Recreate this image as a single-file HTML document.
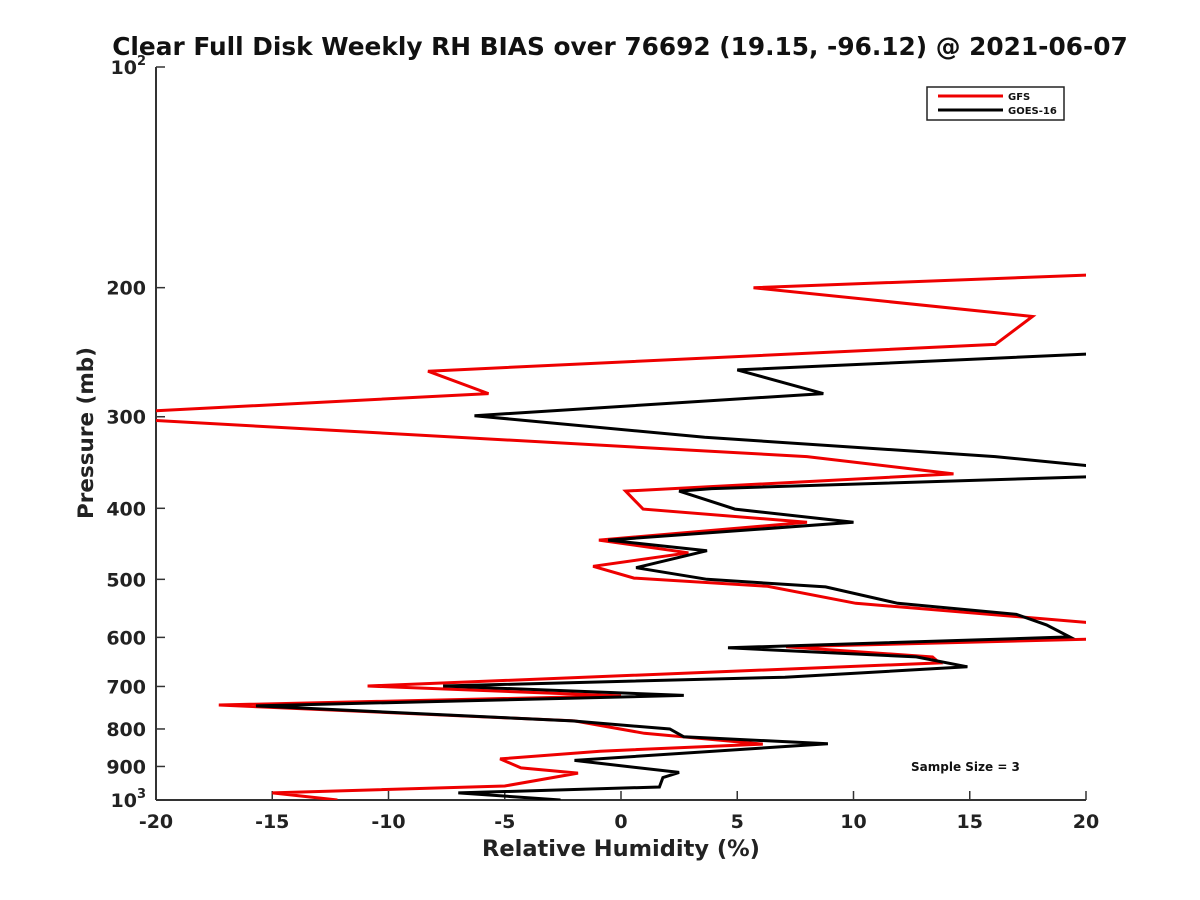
<!DOCTYPE html>
<html><head><meta charset="utf-8"><style>
body{margin:0;background:#fff;}
svg{display:block;font-family:"DejaVu Sans","Liberation Sans",sans-serif;font-weight:bold;}
</style></head><body>
<svg id="chart" width="1200" height="900" viewBox="0 0 1200 900">
<text x="620" y="55" text-anchor="middle" font-size="24.8" fill="#111">Clear Full Disk Weekly RH BIAS over 76692 (19.15, -96.12) @ 2021-06-07</text>
<defs><clipPath id="plotclip"><rect x="156" y="67" width="930" height="733"/></clipPath></defs>
<g id="axes"></g>
<g id="series" clip-path="url(#plotclip)"></g>
<text x="621" y="856" text-anchor="middle" font-size="22.5" fill="#222">Relative Humidity (%)</text>
<text transform="translate(93,433) rotate(-90)" text-anchor="middle" font-size="21.5" fill="#222">Pressure (mb)</text>
<g>
<rect x="927" y="87" width="137" height="33" fill="#fff" stroke="#222" stroke-width="1.5"/>
<line x1="938" y1="96" x2="1003" y2="96" stroke="#e00" stroke-width="3"/>
<text x="1008" y="100" font-size="10" fill="#111">GFS</text>
<line x1="938" y1="110" x2="1003" y2="110" stroke="#000" stroke-width="3"/>
<text x="1008" y="114" font-size="10" fill="#111">GOES-16</text>
</g>
<text x="911" y="771" font-size="12" fill="#111">Sample Size = 3</text>
</svg>
<script>
const xTicks=[-20,-15,-10,-5,0,5,10,15,20];
const yTicks=[200,300,400,500,600,700,800,900];
const gfsP=[192,200,219,239,260,279,295,303,340,359,379,401,418,442,460,480,498,511,539,574,603,618,638,650,699,721,742,780,811,839,858,879,904,919,957,978,1000];
const gfsX=[20.5,5.7,17.7,16.1,-8.3,-5.7,-20.5,-20.5,8.0,14.3,0.2,0.95,8.0,-0.95,2.9,-1.2,0.56,6.3,10.1,20.5,20.5,7.1,13.4,13.7,-10.9,0,-17.3,-2.0,1.0,6.1,-0.9,-5.2,-4.3,-1.85,-5.0,-15.0,-12.2];
const goesP=[246,259,279,299,320,340,351,362,376,379,401,418,442,457,482,500,512,539,558,577,599,620,638,658,680,699,720,744,780,800,820,838,883,917,932,960,978,1000];
const goesX=[20.5,5.0,8.7,-6.3,3.6,16.1,20.5,20.5,3.9,2.5,4.9,10.0,-0.55,3.7,0.65,3.7,8.8,11.9,17.0,18.3,19.3,4.6,12.7,14.9,7.05,-7.65,2.7,-15.7,-2.1,2.1,2.7,8.9,-2.0,2.5,1.8,1.65,-7.0,-2.6];
const X0=156,X1=1086,Y0=67,Y1=800;
function xs(v){return X0+(v+20)/40*(X1-X0);}
function ys(p){return Y0+Math.log10(p/100)*(Y1-Y0);}
const NS='http://www.w3.org/2000/svg';
const axes=document.getElementById('axes'),series=document.getElementById('series');
function mk(tag,attrs,parent){const e=document.createElementNS(NS,tag);for(const k in attrs)e.setAttribute(k,attrs[k]);parent.appendChild(e);return e;}
const yl=mk('line',{x1:X0,y1:Y0,x2:X0,y2:Y1,stroke:'#333','stroke-width':2},axes);


const xl=mk('line',{x1:X0,y1:Y1,x2:X1,y2:Y1,stroke:'#333','stroke-width':2},axes);


xTicks.forEach(v=>{
  const t=mk('line',{x1:xs(v),y1:Y1,x2:xs(v),y2:Y1-9,stroke:'#333','stroke-width':1.5},axes);
  
  
  const l=mk('text',{x:xs(v),y:Y1+28,'text-anchor':'middle','font-size':19,fill:'#222'},axes);
  l.textContent=String(v);
  
  
});
[100,...yTicks,1000].forEach(p=>{
  const t=mk('line',{x1:X0,y1:ys(p),x2:X0+9,y2:ys(p),stroke:'#333','stroke-width':1.5},axes);
  
  
  const l=mk('text',{x:X0-10,y:ys(p)+7,'text-anchor':'end','font-size':19,fill:'#222'},axes);
  if(p===100||p===1000){l.textContent='10';const s=mk('tspan',{dy:-9,'font-size':13},l);s.textContent=p===100?'2':'3';}
  else l.textContent=String(p);
  
  
});
function line(P,Xv,color,name){
  const pts=P.map((p,i)=>xs(Xv[i]).toFixed(1)+','+ys(p).toFixed(1)).join(' ');
  const pl=mk('polyline',{points:pts,fill:'none',stroke:color,'stroke-width':3,'stroke-linejoin':'miter'},series);
  
  
}
line(gfsP,gfsX,'#e00','gfs-line');
line(goesP,goesX,'#000','goes16-line');
</script>
</body></html>
